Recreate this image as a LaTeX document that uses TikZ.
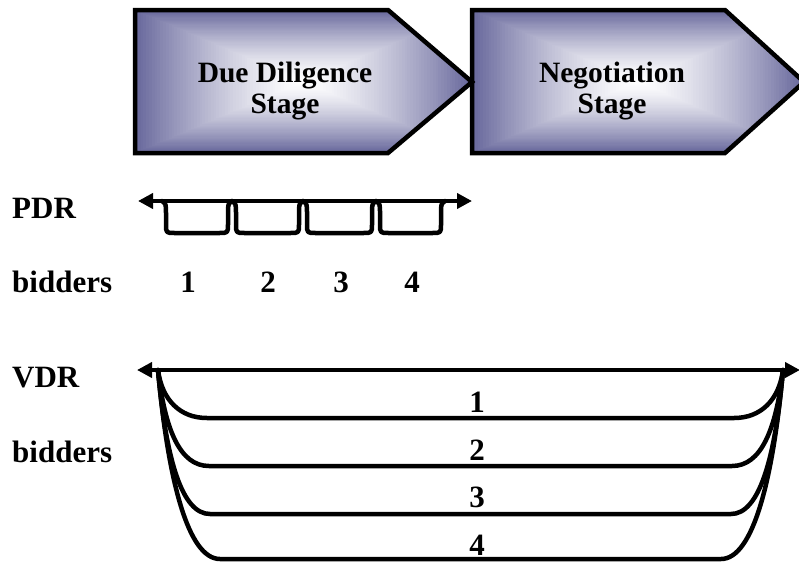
\documentclass[tikz,border=0pt]{standalone}
\usepackage{fontspec}
\setmainfont{Liberation Serif}
\usetikzlibrary{arrows.meta}
\definecolor{slate}{RGB}{104,104,156}
\begin{document}
\begin{tikzpicture}[x=1pt,y=-1pt,
  lbl/.style={font=\fontsize{31}{33}\selectfont\bfseries, inner sep=0pt},
  stagetext/.style={font=\fontsize{29.5}{31}\selectfont\bfseries, inner sep=0pt, align=center, anchor=north},
  outline/.style={line width=4.5pt, line join=miter},
  bar/.style={line width=4.5pt, {Triangle[length=15pt,width=15pt]}-{Triangle[length=15pt,width=15pt]}},
  slot/.style={line width=4.5pt, line join=round, line cap=round},
]
\useasboundingbox (0,0) rectangle (799,562);

% --- stage chevrons with a rectangular centre-out gradient ---
\begin{scope}
  \clip (472,10) -- (725,10) -- (804,82) -- (725,153) -- (472,153) -- cycle;
  \foreach \i in {0,...,60} {
    \pgfmathsetmacro\gfrac{1-\i/60}
    \pgfmathsetmacro\gpct{100*\gfrac^1.4}
    \fill[slate!\gpct!white] (638-166*\gfrac, 81.5-71.5*\gfrac) rectangle (638+166*\gfrac, 81.5+71.5*\gfrac);
  }
\end{scope}
\draw[outline] (472,10) -- (725,10) -- (804,82) -- (725,153) -- (472,153) -- cycle;

\begin{scope}
  \clip (135,10) -- (388,10) -- (472,82) -- (388,153) -- (135,153) -- cycle;
  \foreach \i in {0,...,60} {
    \pgfmathsetmacro\gfrac{1-\i/60}
    \pgfmathsetmacro\gpct{100*\gfrac^1.4}
    \fill[slate!\gpct!white] (303.5-168.5*\gfrac, 81.5-71.5*\gfrac) rectangle (303.5+168.5*\gfrac, 81.5+71.5*\gfrac);
  }
\end{scope}
\draw[outline] (135,10) -- (388,10) -- (472,82) -- (388,153) -- (135,153) -- cycle;

\node[stagetext] (dd) at (285,62) {Due Diligence\\Stage};
\node[stagetext] (neg) at (612,62) {Negotiation\\Stage};

% --- row labels ---
\node[lbl, anchor=base west] (pdr) at (12,218) {PDR};
\node[lbl, anchor=base west] (pbid) at (12,292) {bidders};
\node[lbl, anchor=base west] (vdr) at (12,387) {VDR};
\node[lbl, anchor=base west] (vbid) at (12,462) {bidders};

% --- PDR: one bidder after another ---
\coordinate (pl) at (138,201);
\coordinate (pr) at (472,201);
\draw[bar] (pl) -- (pr);
\foreach \a/\b in {162/232, 232/303, 303/376, 376/445} {
  \draw[slot] (\a,201) .. controls (\a+4,204) .. (\a+4,214) -- (\a+4,224)
    .. controls (\a+4,233) .. (\a+13,233) -- (\b-13,233)
    .. controls (\b-4,233) .. (\b-4,224) -- (\b-4,214)
    .. controls (\b-4,204) .. (\b,201);
}
\node[lbl, anchor=base] (p1) at (188,292) {1};
\node[lbl, anchor=base] (p2) at (268,292) {2};
\node[lbl, anchor=base] (p3) at (341,292) {3};
\node[lbl, anchor=base] (p4) at (412,292) {4};

% --- VDR: all bidders in parallel ---
\coordinate (vl) at (137,370);
\coordinate (vr) at (800,370);
\draw[bar] (vl) -- (vr);
\coordinate (vjl) at (158,370);
\coordinate (vjr) at (783,370);
\draw[slot] (vjl) .. controls (162,400) and (180,418) .. (207,418) -- (734,418)
  .. controls (761,418) and (779,400) .. (vjr);
\draw[slot] (vjl) .. controls (165,430) and (180,466) .. (209,466) -- (732,466)
  .. controls (761,466) and (776,430) .. (vjr);
\draw[slot] (vjl) .. controls (166,460) and (182,514) .. (210,514) -- (731,514)
  .. controls (759,514) and (775,460) .. (vjr);
\draw[slot] (vjl) .. controls (168,480) and (188,559) .. (220,559) -- (721,559)
  .. controls (753,559) and (773,480) .. (vjr);
\node[lbl, anchor=base] (v1) at (477,412) {1};
\node[lbl, anchor=base] (v2) at (477,460) {2};
\node[lbl, anchor=base] (v3) at (477,507) {3};
\node[lbl, anchor=base] (v4) at (477,555) {4};
\end{tikzpicture}
\end{document}
